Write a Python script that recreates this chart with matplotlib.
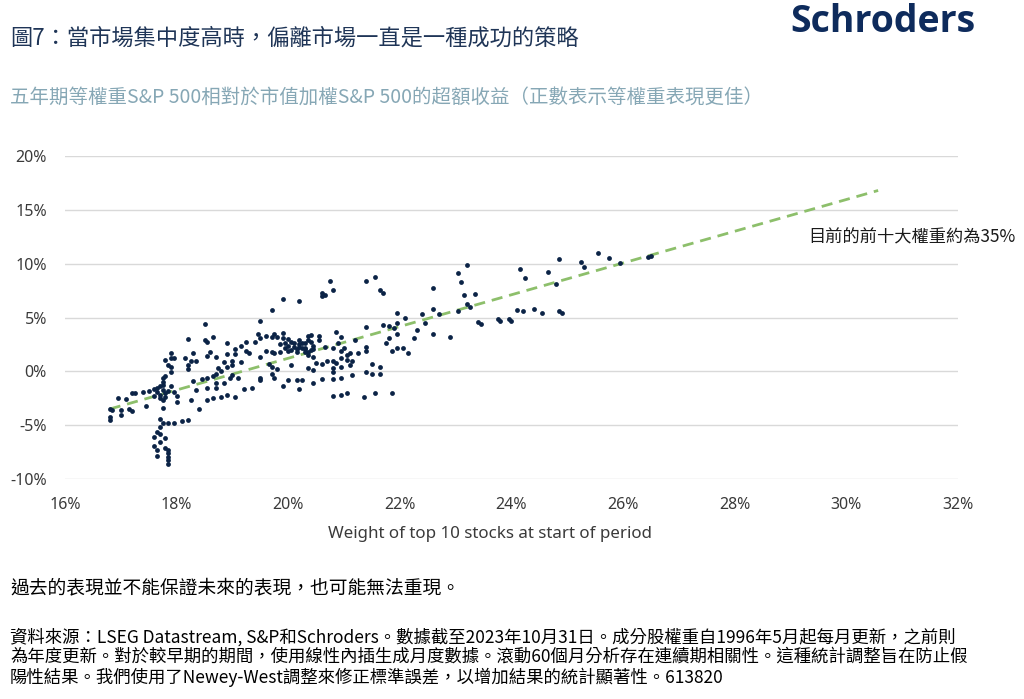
import matplotlib
matplotlib.use("Agg")
import matplotlib.pyplot as plt
import numpy as np

plt.rcParams['font.family'] = ['Noto Sans CJK TC', 'DejaVu Sans']

# (weight of top 10 stocks %, 5y excess return of equal weight %)
pts_17 = [
    (18.2, 3.0), (17.9, 1.7), (17.9, 1.2), (17.8, 1.1), (17.95, 1.2), (18.15, 1.2),
    (18.3, 1.7), (18.25, 1.0), (18.35, 1.0), (17.85, 0.6), (17.9, 0.4), (18.2, 0.6),
    (18.2, 0.2), (17.9, -0.1), (17.8, -0.4), (17.75, -0.65), (17.75, -1.0), (17.75, -1.3),
    (17.65, -1.5), (17.6, -1.6), (17.5, -1.8), (17.4, -1.9), (17.25, -2.0), (17.2, -2.0),
    (16.95, -2.5), (17.1, -2.6), (16.8, -3.5), (16.85, -3.6), (16.8, -4.2), (16.8, -4.5),
    (17.0, -3.6), (17.0, -4.1), (17.15, -3.5), (17.2, -3.7), (17.45, -3.2), (17.65, -1.9),
    (17.7, -2.2), (17.75, -1.7), (17.8, -2.0), (17.7, -2.5), (17.6, -2.3), (17.8, -2.4),
    (17.75, -2.7), (17.85, -1.8), (17.7, -1.4), (17.9, -1.4), (17.95, -1.9), (18.0, -2.3),
    (18.0, -2.8), (18.3, -0.9), (18.35, -1.7), (18.25, -2.7), (18.4, -3.5), (17.75, -3.4),
    (17.7, -4.4), (17.75, -4.8), (17.85, -4.8), (17.95, -4.8), (18.1, -4.6), (18.2, -4.55),
    (17.7, -5.2), (17.65, -5.6), (17.7, -5.8), (17.6, -6.1), (17.8, -6.2), (17.7, -6.6),
    (17.6, -6.9), (17.8, -7.1), (17.65, -7.3), (17.85, -7.3), (17.85, -7.6), (17.65, -7.9),
    (17.85, -8.0), (17.85, -8.2), (17.85, -8.6),
]
pts_19 = [
    (19.9, 6.7), (20.2, 6.5), (19.7, 5.7), (19.5, 4.7), (18.5, 4.4), (18.5, 2.9),
    (18.55, 2.7), (18.65, 3.2), (18.55, 1.4), (18.7, 1.3), (18.6, 1.8), (18.85, 0.9),
    (18.9, 2.6), (18.9, 1.6), (19.05, 2.1), (19.05, 1.6), (19.15, 2.4), (19.25, 2.7),
    (19.25, 1.9), (19.3, 1.7), (19.45, 3.5), (19.5, 3.1), (19.4, 2.7), (19.6, 3.3),
    (19.7, 3.2), (19.75, 3.5), (19.9, 3.6), (19.8, 3.2), (19.9, 3.1), (19.6, 1.9),
    (19.7, 1.8), (19.75, 1.7), (19.85, 1.8), (19.95, 2.2), (20.0, 1.9), (20.15, 1.8),
    (20.2, 2.9), (20.3, 2.1), (20.35, 3.3), (20.05, 2.7), (20.1, 2.6), (19.5, 1.3),
    (19.65, 0.7), (19.7, 0.4), (19.8, 0.2), (20.05, 0.6), (19.7, -0.2), (19.75, -0.6),
    (19.5, -0.6), (19.5, -0.8), (19.0, 1.0), (19.0, 0.6), (18.9, 0.4), (19.15, 0.9),
    (18.75, 0.3), (18.8, 0.0), (18.7, -0.2), (18.65, -0.4), (18.55, -0.6), (18.95, -0.6),
    (19.0, -0.3), (19.1, -0.6), (18.45, -0.7), (18.7, -1.1), (18.85, -1.1), (18.55, -1.5),
    (18.7, -1.5), (19.2, -1.6), (19.35, -1.5), (19.9, -1.4), (20.0, -0.8), (20.15, -0.8),
    (20.2, -1.6), (20.25, -0.8), (18.55, -2.7), (18.65, -2.5), (18.8, -2.4), (18.9, -2.2),
    (19.05, -2.4), (20.0, 2.4), (20.05, 2.0), (20.1, 2.3), (20.2, 2.5), (20.25, 2.2),
    (20.3, 2.6), (20.4, 2.0), (20.0, 3.0), (19.95, 2.6), (20.15, 2.1), (20.35, 1.8),
    (19.85, 2.5),
]
pts_21 = [
    (20.75, 8.4), (20.8, 7.6), (20.6, 7.3), (20.65, 7.1), (20.6, 7.0), (21.4, 8.4),
    (21.55, 8.8), (21.65, 7.6), (21.7, 7.3), (21.95, 5.4), (22.1, 5.0), (21.95, 4.5),
    (21.7, 4.3), (21.8, 4.2), (21.4, 4.1), (21.9, 4.0), (21.8, 3.1), (21.95, 3.5),
    (21.75, 2.6), (21.85, 1.9), (21.95, 2.2), (22.05, 2.2), (22.15, 1.7), (20.4, 3.4),
    (20.55, 3.3), (20.55, 2.9), (20.85, 3.7), (20.95, 3.2), (21.2, 2.9), (20.9, 2.6),
    (20.8, 2.2), (20.65, 2.3), (20.35, 2.9), (20.45, 2.4), (20.45, 2.1), (20.3, 2.2),
    (21.0, 2.2), (20.95, 1.9), (21.05, 1.5), (20.95, 1.2), (21.1, 1.7), (21.25, 1.7),
    (21.4, 2.3), (21.4, 1.9), (21.15, 1.0), (21.05, 1.1), (21.1, 0.6), (20.45, 1.3),
    (20.5, 0.8), (20.6, 0.7), (20.7, 1.0), (20.8, 1.0), (20.85, 0.8), (20.35, 0.3),
    (20.45, 0.1), (20.8, 0.3), (20.8, -0.1), (20.95, 0.4), (21.15, -0.3), (21.4, -0.1),
    (21.5, -0.2), (21.65, 0.4), (21.65, -0.2), (21.5, 0.7), (20.45, -1.1), (20.6, -0.7),
    (20.8, -0.7), (20.95, -0.6), (20.8, -2.3), (20.95, -2.2), (21.05, -2.0), (21.35, -2.4),
    (21.55, -2.0), (21.85, -2.0), (20.25, 2.6), (20.3, 1.8), (20.4, 2.7), (20.35, 1.5),
    (20.2, 2.3),
]
pts_23 = [
    (23.2, 9.9), (23.05, 9.1), (23.1, 8.3), (22.6, 7.7), (23.15, 7.1), (23.35, 7.2),
    (23.2, 6.3), (23.25, 6.0), (22.6, 5.8), (22.7, 5.3), (23.05, 5.6), (22.4, 5.3),
    (22.45, 4.5), (22.3, 3.8), (22.25, 3.1), (22.6, 3.5), (22.9, 3.2), (23.4, 4.6),
    (23.45, 4.4), (23.75, 4.9), (23.8, 4.7), (23.95, 4.9), (24.0, 4.7), (24.1, 5.7),
    (24.2, 5.6), (24.15, 9.5), (24.25, 8.7),
]
pts_25 = [
    (24.85, 10.4), (25.25, 10.2), (25.3, 9.7), (25.55, 11.0), (25.75, 10.5), (25.95, 10.1),
    (26.45, 10.6), (26.5, 10.7), (24.65, 9.2), (24.8, 8.1), (24.4, 5.8), (24.55, 5.4),
    (24.85, 5.6), (24.9, 5.4),
]

trend_x = [16.8, 30.57]
trend_y = [-3.5, 16.8]

x_ticks = [16, 18, 20, 22, 24, 26, 28, 30, 32]
y_ticks = [-10, -5, 0, 5, 10, 15, 20]

title = "圖7：當市場集中度高時，偏離市場一直是一種成功的策略"
subtitle = "五年期等權重S&P 500相對於市值加權S&P 500的超額收益（正數表示等權重表現更佳）"
note = "目前的前十大權重約為35%"
disclaimer = "過去的表現並不能保證未來的表現，也可能無法重現。"
source_lines = [
    "資料來源：LSEG Datastream, S&P和Schroders。數據截至2023年10月31日。成分股權重自1996年5月起每月更新，之前則",
    "為年度更新。對於較早期的期間，使用線性內插生成月度數據。滾動60個月分析存在連續期相關性。這種統計調整旨在防止假",
    "陽性結果。我們使用了Newey-West調整來修正標準誤差，以增加結果的統計顯著性。613820",
]

pts = np.array(pts_17 + pts_19 + pts_21 + pts_23 + pts_25)

fig = plt.figure(figsize=(10.24, 6.99), dpi=100)
ax = fig.add_axes([0.0635, 0.3147, 0.872, 0.4621])

ax.plot(trend_x, trend_y, color="#8dbf6b", lw=2, dashes=(4, 2.5), zorder=2)
ax.scatter(pts[:, 0], pts[:, 1], s=12, color="#0b2346", zorder=3, linewidths=0)

ax.set_xlim(16, 32)
ax.set_ylim(-10, 20)
ax.set_xticks(x_ticks)
ax.set_yticks(y_ticks)
ax.set_xticklabels([f"{v}%" for v in x_ticks], family="Noto Sans", fontsize=11.5, color="#3a3a3a")
ax.set_yticklabels([f"{v}%" for v in y_ticks], family="Noto Sans", fontsize=11.5, color="#3a3a3a")
ax.tick_params(length=0, pad=13)
ax.grid(axis="y", color="#d9d9d9", lw=1)
ax.set_axisbelow(True)
for s in ax.spines.values():
    s.set_visible(False)

fig.text(490 / 1024, 1 - 534 / 699, "Weight of top 10 stocks at start of period",
         family="Noto Sans", fontsize=12.2, color="#3a3a3a", ha="center", va="center")
fig.text(808 / 1024, 1 - 237 / 699, note, fontsize=12.4, color="#1a1a1a", va="center")

fig.text(10 / 1024, 1 - 38 / 699, title, fontsize=16, fontweight="medium",
         color="#1f3557", va="center")
fig.text(10 / 1024, 1 - 97 / 699, subtitle, fontsize=14, fontweight="medium",
         color="#86a7b5", va="center")
fig.text(975 / 1024, 1 - 22 / 699, "Schroders", family="Open Sans", fontweight="bold",
         fontsize=27, color="#0e2b5c", ha="right", va="center")

fig.text(10 / 1024, 1 - 588 / 699, disclaimer, fontsize=13.5, color="black", va="center")
for i, line in enumerate(source_lines):
    fig.text(10 / 1024, 1 - (637 + 20 * i) / 699, line, fontsize=12.5, color="black", va="center")

fig.savefig("out.png", dpi=100)
